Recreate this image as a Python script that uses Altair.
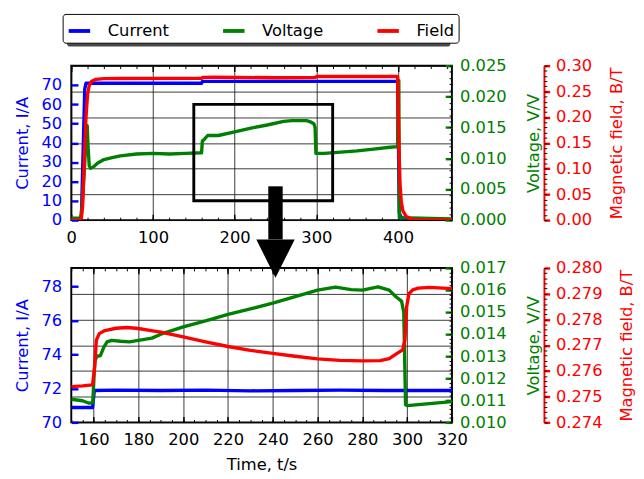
import altair as alt
import pandas as pd

FONT = "DejaVu Sans"
SERIES = ["Current", "Voltage", "Field"]
COLORS = ["#0000ff", "#008000", "#ff0000"]

# ---------------- overview panel data ----------------
top_t_current = [0, 11.5, 12.5, 16.5, 18, 30, 100, 159.5, 160.5, 250, 399.5, 400.5, 401.5, 403, 406, 410, 466]
top_current = [0, 0, 3, 68, 70.9, 70.9, 70.9, 70.9, 71.9, 71.9, 71.9, 40, 4, 2, 1, 0.3, 0]

top_t_voltage = [0, 11.5, 13, 16, 18.5, 19.5, 20.5, 22, 23.5, 27, 32, 40, 50, 60, 80, 100, 120, 140, 159.5,
                 160.5, 163, 167, 180, 200, 220, 240, 260, 270, 288, 293, 297, 298.5, 299.5, 310, 330, 350,
                 370, 390, 399.5, 400.2, 401, 401.6, 466]
top_voltage = [0.0003, 0.0003, 0.002, 0.008, 0.0145, 0.0153, 0.012, 0.0088, 0.0084, 0.0086, 0.0092, 0.0098,
               0.0101, 0.0104, 0.0107, 0.0108, 0.0107, 0.0108, 0.0109, 0.0128, 0.0131, 0.0137, 0.0137, 0.0143,
               0.0149, 0.0154, 0.0160, 0.0161, 0.0161, 0.0159, 0.0156, 0.0150, 0.0108, 0.0108, 0.0110, 0.0112,
               0.0115, 0.0118, 0.0119, 0.0226, 0.0226, 0.0004, 0.0002]

top_t_field = [0, 12, 14, 16, 18, 20, 22, 25, 30, 40, 60, 159.5, 161, 175, 250, 298, 300.5, 399.5, 400.5,
               401.5, 402.5, 404, 406, 410, 415, 420, 466]
top_field = [0, 0, 0.03, 0.12, 0.2, 0.245, 0.262, 0.27, 0.2735, 0.2748, 0.2752, 0.2754, 0.2775, 0.2777,
             0.2767, 0.2768, 0.2791, 0.2792, 0.2, 0.12, 0.07, 0.035, 0.018, 0.007, 0.003, 0.001, 0.0005]

# zoom box and arrow annotation (top panel, data units: time / current)
box_t = [150, 320]
box_current = [10, 60]
arrow_t = 250
arrow_shaft_current = [17.5, -10]
arrow_head_current = -20

# ---------------- zoomed panel data ----------------
bot_t_current = [150, 159.5, 160.3, 170, 190, 210, 230, 250, 270, 290, 310, 320]
bot_current = [70.88, 70.88, 71.88, 71.9, 71.88, 71.9, 71.86, 71.88, 71.9, 71.88, 71.88, 71.88]

bot_t_voltage = [150, 155, 158, 159.6, 160.5, 161.5, 163, 164.5, 166, 168, 172, 176, 180, 186, 190, 200, 210,
                 220, 230, 240, 250, 260, 268, 275, 280, 287, 292, 295, 297.5, 298.5, 299.3, 300, 310, 320]
bot_voltage = [0.01105, 0.01098, 0.01087, 0.0109, 0.0128, 0.0130, 0.01303, 0.0134, 0.01365, 0.01372, 0.01368,
               0.01365, 0.01372, 0.01382, 0.0140, 0.01433, 0.0146, 0.0149, 0.01515, 0.01541, 0.0157, 0.0160,
               0.01613, 0.01602, 0.0160, 0.01615, 0.0160, 0.0157, 0.0155, 0.0150, 0.0108, 0.01076, 0.01085,
               0.01094]

bot_t_field = [150, 155, 159.5, 160.5, 161.2, 162.5, 165, 170, 175, 180, 185, 190, 200, 210, 220, 230, 240,
               250, 260, 270, 280, 288, 292, 295, 298, 299, 299.8, 300.8, 302.5, 305, 310, 320]
bot_field = [0.27539, 0.27542, 0.27546, 0.2762, 0.2772, 0.27745, 0.27757, 0.27766, 0.27769, 0.27765, 0.27758,
             0.27751, 0.27732, 0.27713, 0.27695, 0.2768, 0.27668, 0.27657, 0.27647, 0.27641, 0.27639, 0.2764,
             0.27648, 0.27665, 0.27682, 0.2772, 0.2785, 0.2790, 0.27915, 0.27922, 0.27925, 0.2792]

# ---------------- axes / ticks ----------------
top_x_dom = [0, 466]
top_x_major = [0, 100, 200, 300, 400]
top_x_minor = [i * 20 for i in range(24)]
top_cur_dom = [0, 80]
top_cur_ticks = [0, 10, 20, 30, 40, 50, 60, 70]
top_volt_dom = [0, 0.025]
top_volt_ticks = [0.0, 0.005, 0.01, 0.015, 0.02, 0.025]
top_volt_minor = [round(i * 0.001, 4) for i in range(26)]
top_field_dom = [0, 0.30]
top_field_ticks = [0.0, 0.05, 0.1, 0.15, 0.2, 0.25, 0.3]
top_field_minor = [round(i * 0.01, 3) for i in range(31)]

bot_x_dom = [150, 320]
bot_x_major = [160, 180, 200, 220, 240, 260, 280, 300, 320]
bot_x_minor = [150 + i * 5 for i in range(35)]
bot_cur_dom = [70, 79.1]
bot_cur_ticks = [70, 72, 74, 76, 78]
bot_volt_dom = [0.010, 0.017]
bot_volt_ticks = [0.010, 0.011, 0.012, 0.013, 0.014, 0.015, 0.016, 0.017]
bot_volt_minor = [round(0.010 + i * 0.0002, 5) for i in range(36)]
bot_field_dom = [0.274, 0.280]
bot_field_ticks = [0.274, 0.275, 0.276, 0.277, 0.278, 0.279, 0.280]
bot_field_minor = [round(0.274 + i * 0.0002, 5) for i in range(31)]

W, H = 397, 161
FS = 17


def sc(dom):
    return alt.Scale(domain=dom, nice=False, zero=False)


def line(t, v, name, xdom, ydom, xaxis, yaxis, legend):
    df = pd.DataFrame({"t": t, "v": v, "s": [name] * len(t)})
    if legend is not None:
        color = alt.Color("s:N", scale=alt.Scale(domain=SERIES, range=COLORS), legend=legend)
    else:
        color = alt.value(COLORS[SERIES.index(name)])
    return alt.Chart(df).mark_line(strokeWidth=3.5, clip=True, strokeJoin="round").encode(
        x=alt.X("t:Q", scale=sc(xdom), axis=xaxis),
        y=alt.Y("v:Q", scale=sc(ydom), axis=yaxis),
        color=color,
    )


def guide(xdom, ydom, xaxis, yaxis):
    df = pd.DataFrame({"t": [xdom[0]], "v": [ydom[0]]})
    return alt.Chart(df).mark_point(opacity=0).encode(
        x=alt.X("t:Q", scale=sc(xdom), axis=xaxis),
        y=alt.Y("v:Q", scale=sc(ydom), axis=yaxis),
    )


COMMON = dict(labelFlush=False, labelOverlap=False, labelFontSize=FS, titleFontSize=FS,
              titleFontWeight="normal")


def panel(d, legend, xtitle, extra):
    xdom, cdom, vdom, fdom = d["xdom"], d["cdom"], d["vdom"], d["fdom"]
    grid = guide(
        xdom, fdom,
        alt.Axis(orient="bottom", values=d["xmaj"], grid=True, gridColor="#111", gridWidth=1, gridOpacity=0.85,
                 labels=False, ticks=False, domain=False, title=None),
        alt.Axis(orient="right", values=d["fticks"], grid=True, gridColor="#111", gridWidth=1, gridOpacity=0.85,
                 labels=False, ticks=False, domain=False, title=None),
    )
    xmain = alt.Axis(orient="bottom", values=d["xmaj"], format="d", offset=-6, tickSize=6, tickWidth=1.5,
                     tickColor="black", domain=False, grid=False, labelPadding=10, labelColor="black",
                     title=xtitle, titlePadding=10, titleColor="black", **COMMON)
    cax = alt.Axis(orient="left", values=d["cticks"], format="d", offset=-7, tickSize=7, tickWidth=2.5,
                   tickColor="#0000ff", domain=False, grid=False, labelPadding=10, labelColor="#0000ff",
                   title="Current, I/A", titleColor="#0000ff", titlePadding=10, **COMMON)
    vax = alt.Axis(orient="right", values=d["vticks"], format=".3f", offset=-7, tickSize=7, tickWidth=2.5,
                   tickColor="#008000", domain=False, grid=False, labelPadding=8, labelColor="#008000",
                   title="Voltage, V/V", titleColor="#008000", titlePadding=21, titleAngle=270,
                   titleBaseline="top", **COMMON)
    fax = alt.Axis(orient="right", values=d["fticks"], format=d["ffmt"], offset=96, tickSize=6, tickWidth=2.5,
                   tickColor="#ff0000", domain=True, domainColor="#ff0000", domainWidth=2, grid=False,
                   labelPadding=6, labelColor="#ff0000", title="Magnetic field, B/T",
                   titleColor="#ff0000", titlePadding=18, titleAngle=270, titleBaseline="top", **COMMON)
    blue = line(d["tc"], d["c"], "Current", xdom, cdom, xmain, cax, legend)
    green = line(d["tv"], d["v"], "Voltage", xdom, vdom, None, vax, legend)
    red = line(d["tf"], d["f"], "Field", xdom, fdom, None, fax, legend)
    ticks_a = guide(
        xdom, vdom,
        alt.Axis(orient="top", values=d["xmaj"], offset=-6, tickSize=6, tickWidth=1.5, tickColor="black",
                 labels=False, domain=False, grid=False, title=None),
        alt.Axis(orient="right", values=d["vminor"], offset=-3, tickSize=3, tickWidth=1, tickColor="black",
                 labels=False, domain=False, grid=False, title=None),
    )
    ticks_b = guide(
        xdom, fdom,
        alt.Axis(orient="top", values=d["xmin"], offset=-3, tickSize=3, tickWidth=1, tickColor="black",
                 labels=False, domain=False, grid=False, title=None),
        alt.Axis(orient="right", values=d["fminor"], offset=96, tickSize=3, tickWidth=1, tickColor="black",
                 labels=False, domain=False, grid=False, title=None),
    )
    ticks_c = guide(
        xdom, cdom,
        alt.Axis(orient="bottom", values=d["xmin"], offset=-3, tickSize=3, tickWidth=1, tickColor="black",
                 labels=False, domain=False, grid=False, title=None),
        None,
    )
    layers = extra[:1] + [grid, blue, green, red, ticks_a, ticks_b, ticks_c] + extra[1:]
    return alt.layer(*layers).resolve_scale(x="independent", y="independent").properties(width=W, height=H)


legend = alt.Legend(
    title=None, orient="none", legendX=-9, legendY=-54, direction="horizontal", columns=3,
    symbolType="stroke", symbolStrokeWidth=4, symbolSize=500, labelFontSize=FS, labelFont=FONT,
    labelColor="black", strokeColor="black", fillColor="white", padding=4, cornerRadius=3,
    columnPadding=48, labelOffset=16,
)

# legend drop shadow (decoration, pixel placement relative to the top panel)
shadow = alt.Chart(pd.DataFrame({"k": [0]})).mark_rect(color="#4a4a4a", clip=False, cornerRadius=3).encode(
    x=alt.value(-4.5), x2=alt.value(395.5), y=alt.value(-50), y2=alt.value(-20)
)

# annotations for the top panel
box_df = pd.DataFrame({"t": [box_t[0]], "t2": [box_t[1]], "c": [box_current[0]], "c2": [box_current[1]]})
box = alt.Chart(box_df).mark_rect(fill=None, stroke="black", strokeWidth=3, filled=False).encode(
    x=alt.X("t:Q", scale=sc(top_x_dom), axis=None), x2="t2:Q",
    y=alt.Y("c:Q", scale=sc(top_cur_dom), axis=None), y2="c2:Q",
)
shaft_df = pd.DataFrame({"t": [arrow_t], "c": [arrow_shaft_current[0]], "c2": [arrow_shaft_current[1]]})
shaft = alt.Chart(shaft_df).mark_rule(strokeWidth=15, color="black", clip=False).encode(
    x=alt.X("t:Q", scale=sc(top_x_dom), axis=None),
    y=alt.Y("c:Q", scale=sc(top_cur_dom), axis=None), y2="c2:Q",
)
head_df = pd.DataFrame({"t": [arrow_t], "c": [arrow_head_current]})
head = alt.Chart(head_df).mark_point(
    shape="M-1,-1L1,-1L0,1Z", size=1600, filled=True, fill="black", opacity=1, clip=False
).encode(
    x=alt.X("t:Q", scale=sc(top_x_dom), axis=None),
    y=alt.Y("c:Q", scale=sc(top_cur_dom), axis=None),
)

top_d = dict(xdom=top_x_dom, cdom=top_cur_dom, vdom=top_volt_dom, fdom=top_field_dom,
             xmaj=top_x_major, xmin=top_x_minor, cticks=top_cur_ticks, vticks=top_volt_ticks,
             vminor=top_volt_minor, fticks=top_field_ticks, fminor=top_field_minor, ffmt=".2f",
             tc=top_t_current, c=top_current, tv=top_t_voltage, v=top_voltage, tf=top_t_field, f=top_field)
bot_d = dict(xdom=bot_x_dom, cdom=bot_cur_dom, vdom=bot_volt_dom, fdom=bot_field_dom,
             xmaj=bot_x_major, xmin=bot_x_minor, cticks=bot_cur_ticks, vticks=bot_volt_ticks,
             vminor=bot_volt_minor, fticks=bot_field_ticks, fminor=bot_field_minor, ffmt=".3f",
             tc=bot_t_current, c=bot_current, tv=bot_t_voltage, v=bot_voltage, tf=bot_t_field, f=bot_field)

top = panel(top_d, legend, None, [shadow, box, shaft, head])
bottom = panel(bot_d, None, "Time, t/s", [])

chart = alt.vconcat(top, bottom, spacing=50, bounds="flush").properties(
    padding={"left": 5, "top": -5, "right": 0, "bottom": 0}
).configure_view(stroke="black", strokeWidth=2).configure_axis(
    labelFont=FONT, titleFont=FONT
).configure_legend(labelFont=FONT)

chart.save("out.html", embed_options={"renderer": "svg", "actions": False})
